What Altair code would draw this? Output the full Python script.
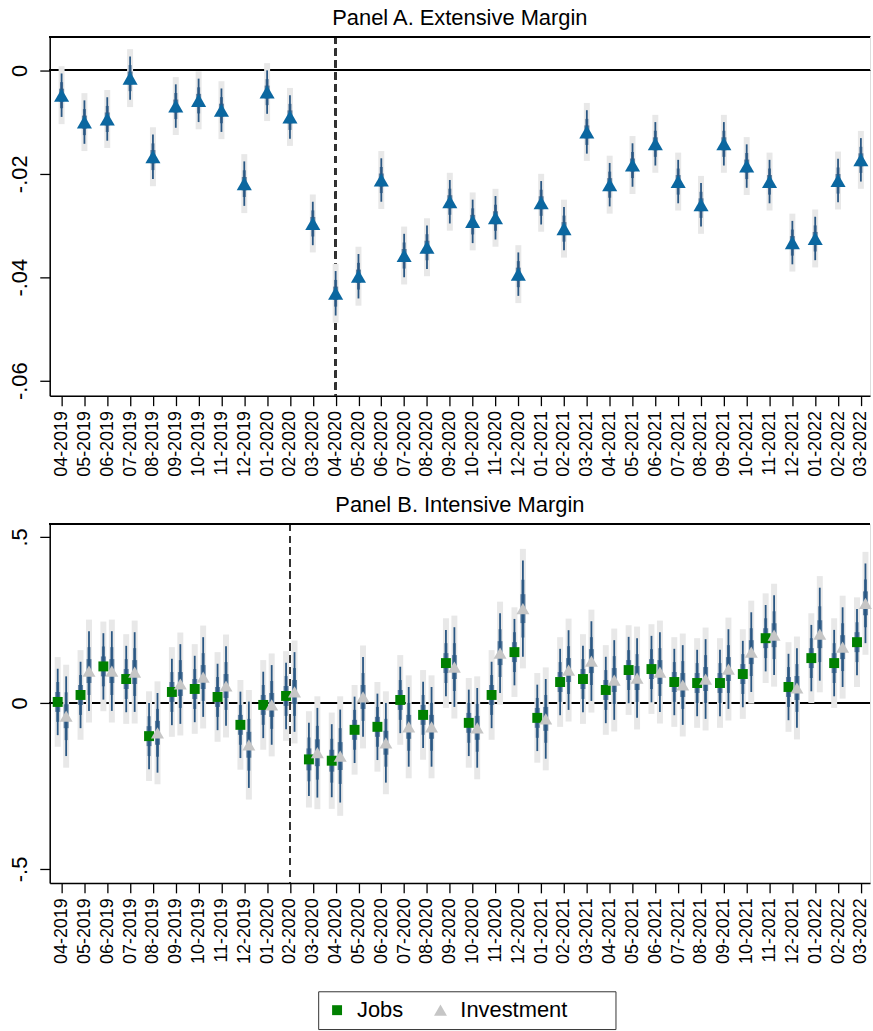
import altair as alt
import pandas as pd

# ---------------- data ----------------
months = ["04-2019", "05-2019", "06-2019", "07-2019", "08-2019", "09-2019",
          "10-2019", "11-2019", "12-2019", "01-2020", "02-2020", "03-2020",
          "04-2020", "05-2020", "06-2020", "07-2020", "08-2020", "09-2020",
          "10-2020", "11-2020", "12-2020", "01-2021", "02-2021", "03-2021",
          "04-2021", "05-2021", "06-2021", "07-2021", "08-2021", "09-2021",
          "10-2021", "11-2021", "12-2021", "01-2022", "02-2022", "03-2022"]

# Panel A: extensive margin estimates and CI half-widths
ext_est = [-0.0048, -0.0100, -0.0094, -0.0015, -0.0167, -0.0069, -0.0058, -0.0077,
           -0.0219, -0.0042, -0.0090, -0.0296, -0.0431, -0.0398, -0.0212, -0.0358,
           -0.0342, -0.0254, -0.0292, -0.0285, -0.0394, -0.0256, -0.0306, -0.0119,
           -0.0221, -0.0183, -0.0142, -0.0215, -0.0260, -0.0142, -0.0185, -0.0215,
           -0.0333, -0.0325, -0.0213, -0.0173]
ext_ci_in = [0.0042, 0.0042, 0.0042, 0.0042, 0.0043, 0.0042, 0.0042, 0.0042,
             0.0043, 0.0042, 0.0042, 0.0042, 0.0043, 0.0043, 0.0042, 0.0042,
             0.0042, 0.0042, 0.0042, 0.0042, 0.0042, 0.0042, 0.0042, 0.0042,
             0.0042, 0.0042, 0.0042, 0.0042, 0.0042, 0.0042, 0.0042, 0.0042,
             0.0042, 0.0042, 0.0042, 0.0042]
ext_ci_out = [0.0056, 0.0056, 0.0056, 0.0056, 0.0057, 0.0056, 0.0056, 0.0056,
              0.0057, 0.0056, 0.0056, 0.0056, 0.0057, 0.0057, 0.0056, 0.0056,
              0.0056, 0.0056, 0.0056, 0.0056, 0.0056, 0.0056, 0.0056, 0.0056,
              0.0056, 0.0056, 0.0056, 0.0056, 0.0056, 0.0056, 0.0056, 0.0056,
              0.0056, 0.0056, 0.0056, 0.0056]

# Panel B: intensive margin, two series
series = ["Jobs", "Investment"]
jobs_est = [0.003, 0.024, 0.110, 0.072, -0.100, 0.033, 0.042, 0.018, -0.066, -0.006,
            0.021, -0.170, -0.174, -0.081, -0.072, 0.009, -0.036, 0.120, -0.060, 0.024,
            0.153, -0.045, 0.063, 0.072, 0.039, 0.099, 0.102, 0.063, 0.060, 0.060,
            0.087, 0.195, 0.048, 0.135, 0.120, 0.183]
inv_est = [-0.040, 0.096, 0.096, 0.093, -0.090, 0.057, 0.078, 0.051, -0.126, -0.006,
           0.033, -0.150, -0.160, 0.018, -0.120, -0.072, -0.072, 0.108, -0.075, 0.150,
           0.284, -0.048, 0.099, 0.126, 0.069, 0.075, 0.093, 0.054, 0.072, 0.102,
           0.153, 0.204, 0.045, 0.207, 0.168, 0.300]
jobs_ci_in = [0.10, 0.10, 0.10, 0.10, 0.10, 0.10, 0.10, 0.10, 0.10, 0.10, 0.10, 0.11,
              0.11, 0.10, 0.10, 0.10, 0.10, 0.10, 0.10, 0.10, 0.10, 0.10, 0.10, 0.10,
              0.10, 0.10, 0.10, 0.10, 0.10, 0.10, 0.10, 0.10, 0.10, 0.10, 0.10, 0.10]
jobs_ci_out = [0.135, 0.135, 0.135, 0.135, 0.135, 0.135, 0.135, 0.135, 0.135, 0.135,
               0.135, 0.145, 0.145, 0.135, 0.135, 0.135, 0.135, 0.135, 0.135, 0.135,
               0.135, 0.135, 0.135, 0.135, 0.135, 0.135, 0.135, 0.135, 0.135, 0.135,
               0.135, 0.135, 0.135, 0.135, 0.135, 0.135]
inv_ci_in = [0.12, 0.12, 0.12, 0.12, 0.12, 0.12, 0.12, 0.12, 0.13, 0.12, 0.12, 0.135,
             0.14, 0.12, 0.12, 0.12, 0.12, 0.12, 0.12, 0.12, 0.145, 0.12, 0.12, 0.12,
             0.12, 0.12, 0.12, 0.12, 0.12, 0.12, 0.12, 0.12, 0.12, 0.14, 0.12, 0.12]
inv_ci_out = [0.155, 0.155, 0.155, 0.155, 0.155, 0.155, 0.155, 0.155, 0.165, 0.155,
              0.155, 0.17, 0.18, 0.155, 0.155, 0.155, 0.155, 0.155, 0.155, 0.155,
              0.18, 0.155, 0.155, 0.155, 0.155, 0.155, 0.155, 0.155, 0.155, 0.155,
              0.155, 0.155, 0.155, 0.175, 0.155, 0.155]

event_a = "04-2020"
event_b = "02-2020"

yticks_a = [0, -0.02, -0.04, -0.06]
ylabels_a = ["0", "-.02", "-.04", "-.06"]
yticks_b = [0.5, 0, -0.5]
ylabels_b = [".5", "0", "-.5"]

# ---------------- style ----------------
FONT = "Liberation Sans"
W, H = 825, 361
BLUE_TRI = "#0b67a0"
NAVY = "#2a5783"
LIGHT = "#e8e8e8"
series_colors = ["#008000", "#c6c6c6"]
series_shapes = ["square", "triangle-up"]
series_sizes = [100, 170]
series_offset = {"Jobs": -0.17, "Investment": 0.2}

n = len(months)
xdom = [-0.52, n - 0.6]
month_arr = "[" + ",".join("'" + m + "'" for m in months) + "]"
XSCALE = alt.Scale(domain=xdom, nice=False, zero=False)


def x_axis():
    return alt.Axis(values=list(range(n)), labelExpr=month_arr + "[datum.value]",
                    labelAngle=270, title=None, grid=False, tickSize=10,
                    labelPadding=5, labelFontSize=18, labelFont=FONT,
                    labelColor="black", domainColor="black", tickColor="black",
                    domainWidth=1.5, tickWidth=1.3, labelOverlap=False,
                    labelFlush=False)


def x_enc():
    return alt.X("xpos:Q", scale=XSCALE, axis=x_axis())


def y_axis(ticks, labels):
    arr = "[" + ",".join(str(t) for t in ticks) + "]"
    lab = "[" + ",".join("'" + l + "'" for l in labels) + "]"
    return alt.Axis(values=ticks, labelExpr=lab + "[indexof(" + arr + ", datum.value)]",
                    labelAngle=270, title=None, grid=False, tickSize=10, labelPadding=8,
                    labelFontSize=22, labelFont=FONT, labelColor="black",
                    domainColor="black", tickColor="black", domainWidth=1.5, tickWidth=1.3,
                    labelBaseline="bottom", labelAlign="center", labelOverlap=False,
                    labelFlush=False)


def panel(df, dom, ticks, labels, event, title, point_layers):
    yscale = alt.Scale(domain=dom, nice=False, zero=False)
    ye = lambda f: alt.Y(f + ":Q", scale=yscale, axis=y_axis(ticks, labels))
    base = alt.Chart(df).transform_calculate(
        olo="datum.est - datum.cout", ohi="datum.est + datum.cout",
        ilo="datum.est - datum.cin", ihi="datum.est + datum.cin",
        mlo="datum.est - 0.6*datum.cin", mhi="datum.est + 0.6*datum.cin",
        slo="datum.est - 0.3*datum.cin", shi="datum.est + 0.3*datum.cin")
    zero = alt.Chart(df).mark_rule(color="black", strokeWidth=1.5).encode(
        y=alt.YDatum(0, scale=yscale, axis=y_axis(ticks, labels)))
    top = alt.Chart(df).mark_rule(color="black", strokeWidth=1.5).encode(
        y=alt.YDatum(dom[1], scale=yscale, axis=y_axis(ticks, labels)))
    vline = alt.Chart(df).mark_rule(color="#333333", strokeWidth=1.5,
                                    strokeDash=[7, 5]).encode(
        x=alt.XDatum(months.index(event), scale=XSCALE, axis=x_axis()))
    light = base.mark_rule(color=LIGHT, strokeWidth=6).encode(x=x_enc(), y=ye("olo"), y2="ohi:Q")
    dark = base.mark_rule(color=NAVY, strokeWidth=1.8).encode(x=x_enc(), y=ye("ilo"), y2="ihi:Q")
    mid = base.mark_rule(color=NAVY, strokeWidth=3, opacity=0.8).encode(
        x=x_enc(), y=ye("mlo"), y2="mhi:Q")
    thick = base.mark_rule(color=NAVY, strokeWidth=5, opacity=0.7).encode(
        x=x_enc(), y=ye("slo"), y2="shi:Q")
    pts = point_layers(base, ye)
    return alt.layer(zero, vline, light, dark, mid, thick, top, pts).properties(
        width=W, height=H,
        title=alt.TitleParams(title, fontSize=22, font=FONT, fontWeight="normal",
                              anchor="middle", offset=6, color="black"))


df_a = pd.DataFrame({"month": months, "xpos": list(range(n)), "est": ext_est,
                     "cin": ext_ci_in, "cout": ext_ci_out})

rows = []
for s, est, cin, cout in [("Jobs", jobs_est, jobs_ci_in, jobs_ci_out),
                          ("Investment", inv_est, inv_ci_in, inv_ci_out)]:
    for i in range(n):
        rows.append({"month": months[i], "series": s, "xpos": i + series_offset[s],
                     "est": est[i], "cin": cin[i], "cout": cout[i]})
df_b = pd.DataFrame(rows)


def pts_a(base, ye):
    return base.mark_point(shape="triangle-up", filled=True, size=230, color=BLUE_TRI,
                           opacity=1).encode(x=x_enc(), y=ye("est"))


def legend():
    return alt.Legend(title="\u2003", titleOrient="right", titleFontSize=10,
                      titlePadding=40, orient="none", legendX=270, legendY=960,
                      direction="horizontal", strokeColor="#333333", padding=8,
                      labelFontSize=22, labelFont=FONT, labelColor="black",
                      symbolSize=130, symbolStrokeWidth=0, columnPadding=26,
                      labelOffset=9)


def pts_b(base, ye):
    return base.mark_point(filled=True, opacity=1).encode(
        x=x_enc(), y=ye("est"),
        color=alt.Color("series:N", scale=alt.Scale(domain=series, range=series_colors),
                        legend=legend()),
        shape=alt.Shape("series:N", scale=alt.Scale(domain=series, range=series_shapes),
                        legend=legend()),
        size=alt.Size("series:N", scale=alt.Scale(domain=series, range=series_sizes),
                      legend=None))


pa = panel(df_a, [-0.0629, 0.0065], yticks_a, ylabels_a, event_a,
           "Panel A. Extensive Margin", pts_a)
pb = panel(df_b, [-0.542, 0.539], yticks_b, ylabels_b, event_b,
           "Panel B. Intensive Margin", pts_b)

chart = alt.vconcat(pa, pb, spacing=16).properties(
    padding={"left": 8, "top": 3, "right": 0, "bottom": 0}
).configure_view(strokeWidth=0, stroke="transparent").configure_axisX(
    labelOverlap=False).configure(background="white")

chart.save("out.html", embed_options={"renderer": "svg", "actions": False})
